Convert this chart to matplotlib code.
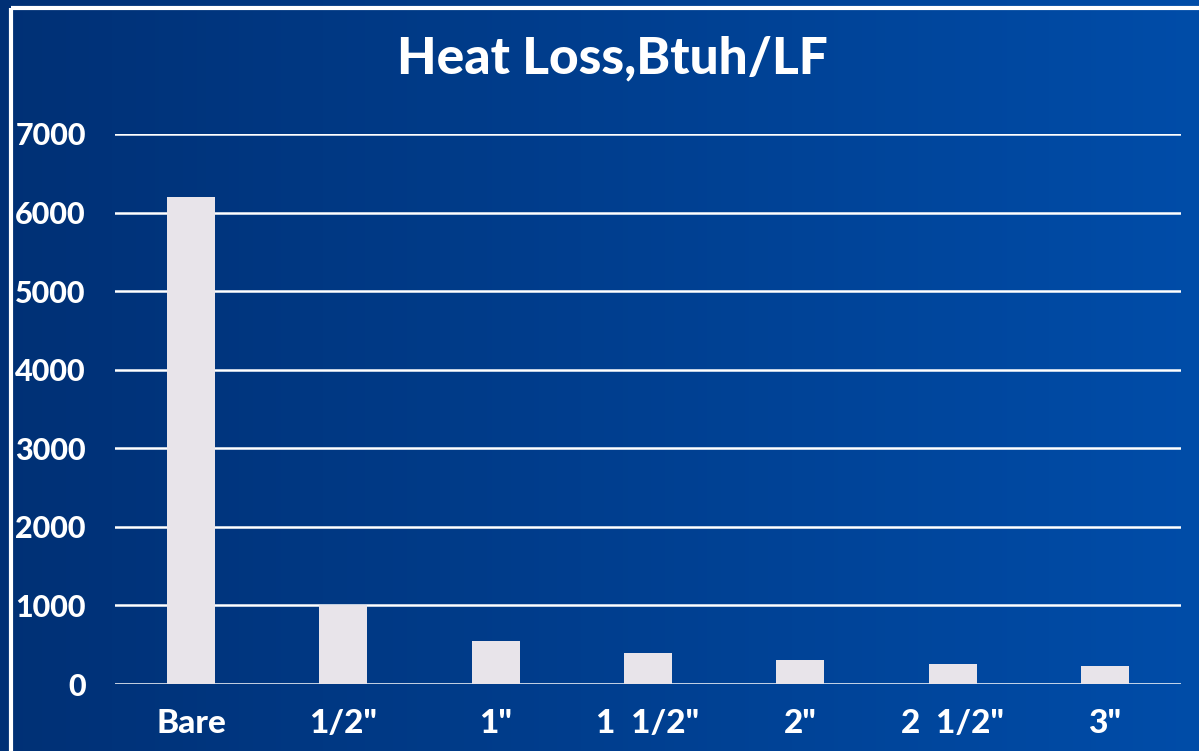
import numpy as np
import matplotlib.pyplot as plt

# data
categories = ['Bare', '1/2"', '1"', '1  1/2"', '2"', '2  1/2"', '3"']
heat_loss = [6200, 1010, 550, 400, 310, 260, 225]
yticks = [0, 1000, 2000, 3000, 4000, 5000, 6000, 7000]

plt.rcParams['font.family'] = ['Lato', 'DejaVu Sans']

fig = plt.figure(figsize=(11.99, 7.51), dpi=100)

# gradient background, dark navy on the left to brighter blue on the right
bg = fig.add_axes([0, 0, 1, 1])
grad = np.linspace(0, 1, 256).reshape(1, -1)
c0 = np.array([0.0, 0.19, 0.46])
c1 = np.array([0.0, 0.30, 0.66])
img = c0[None, None, :] * (1 - grad[..., None]) + c1[None, None, :] * grad[..., None]
bg.imshow(img, aspect='auto', extent=[0, 1, 0, 1])
bg.set_xlim(0, 1)
bg.set_ylim(0, 1)
bg.axis('off')
# white frame lines on top and left
bg.plot([0.0092, 1.0], [0.9887, 0.9887], color='white', lw=3, solid_capstyle='butt')
bg.plot([0.0092, 0.0092], [0.0, 0.9887], color='white', lw=3, solid_capstyle='butt')

# main chart
ax = fig.add_axes([115 / 1199, 1 - 684 / 751, (1181 - 115) / 1199, 550 / 751])
ax.set_facecolor('none')
x = np.arange(len(categories))
ax.bar(x, heat_loss, width=0.315, color='#e8e4ea', zorder=3)
ax.set_xlim(-0.5, len(categories) - 0.5)
ax.set_ylim(0, 7000)
ax.set_yticks(yticks)
ax.set_yticklabels([str(v) for v in yticks])
ax.yaxis.grid(True, color='white', lw=1.8, zorder=1)
ax.set_axisbelow(True)
ax.set_xticks(x)
ax.set_xticklabels(categories)
for s in ax.spines.values():
    s.set_visible(False)
ax.tick_params(length=0, colors='white')
ax.tick_params(axis='y', pad=21, labelsize=22)
ax.tick_params(axis='x', pad=18, labelsize=24)
for lbl in ax.get_xticklabels() + ax.get_yticklabels():
    lbl.set_fontweight('black')

fig.text(0.511, 0.922, 'Heat Loss,Btuh/LF', color='white', fontsize=37,
         fontweight='black', ha='center', va='center')

plt.savefig('out.png', dpi=100)
